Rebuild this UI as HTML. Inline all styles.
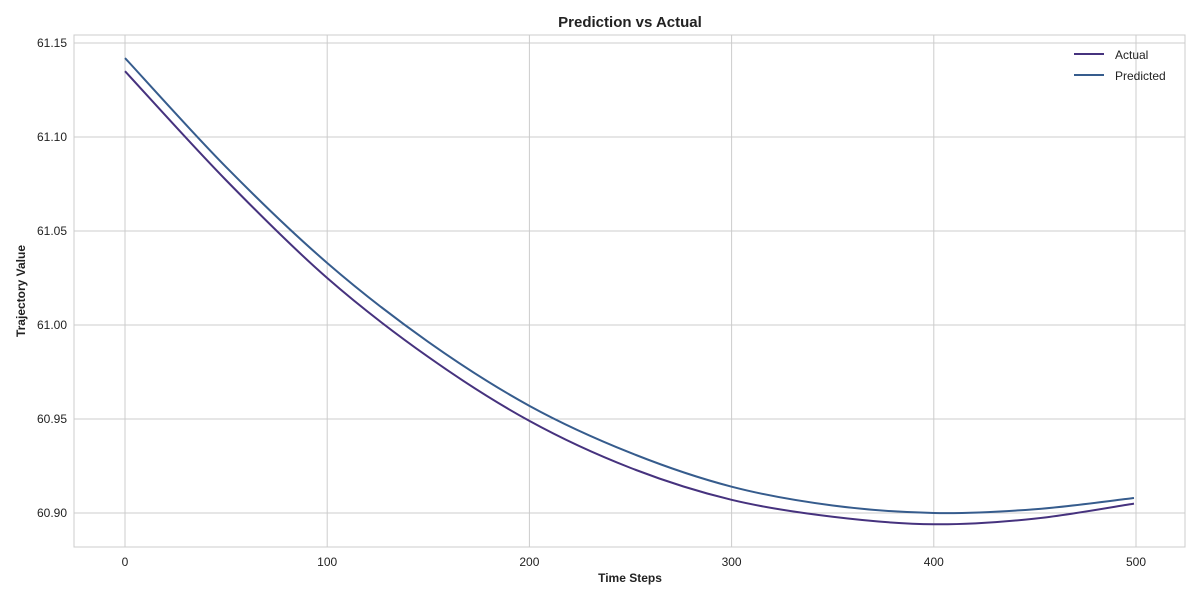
<!DOCTYPE html>
<html><head><meta charset="utf-8"><style>
body{margin:0;background:#fff;font-family:"Liberation Sans",Arial,sans-serif;}
svg text{font-family:"Liberation Sans",Arial,sans-serif;}
</style></head><body>
<svg id="chart" width="1200" height="600">
<text x="630" y="27" text-anchor="middle" font-size="15" font-weight="bold" fill="#222">Prediction vs Actual</text>
<g id="grid"></g>
<rect x="74" y="35" width="1111" height="512" fill="none" stroke="#ccc"/>
<g id="series"></g>
<text x="630" y="582" text-anchor="middle" font-size="12" font-weight="bold" fill="#222">Time Steps</text>
<text transform="translate(25,291) rotate(-90)" text-anchor="middle" font-size="12" font-weight="bold" fill="#222">Trajectory Value</text>
<g>
<g><line x1="1074" y1="54" x2="1104" y2="54" stroke="#46327e" stroke-width="2"/><text x="1115" y="59" font-size="12" fill="#222">Actual</text></g>
<g><line x1="1074" y1="75" x2="1104" y2="75" stroke="#365c8d" stroke-width="2"/><text x="1115" y="80" font-size="12" fill="#222">Predicted</text></g>
</g>
</svg>
<script>
const steps=[0,50,100,150,200,250,300,350,400,450,499];
const actual=[61.135,61.077,61.025,60.983,60.949,60.924,60.907,60.898,60.894,60.897,60.905];
const predicted=[61.142,61.084,61.033,60.991,60.957,60.932,60.914,60.904,60.900,60.902,60.908];
const xTicks=[0,100,200,300,400,500];
const yTicks=[60.90,60.95,61.00,61.05,61.10,61.15];
const NS="http://www.w3.org/2000/svg";
const xs=v=>125+(v-0)*(1136-125)/500;
const ys=v=>513-(v-60.90)*(513-43)/0.25;
const grid=document.getElementById('grid');
function mk(t,a,p){const e=document.createElementNS(NS,t);for(const k in a)e.setAttribute(k,a[k]);p.appendChild(e);return e;}
xTicks.forEach(t=>{
  const l=mk('line',{x1:xs(t),x2:xs(t),y1:35,y2:547,stroke:'#ccc'},grid);
  
  
  const tx=mk('text',{x:xs(t),y:566,'text-anchor':'middle','font-size':12,fill:'#222'},grid);
  tx.textContent=t;
  
  
});
yTicks.forEach(t=>{
  const l=mk('line',{x1:74,x2:1185,y1:ys(t),y2:ys(t),stroke:'#ccc'},grid);
  
  
  const tx=mk('text',{x:67,y:ys(t)+4,'text-anchor':'end','font-size':12,fill:'#222'},grid);
  tx.textContent=t.toFixed(2);
  
  
});
function pathFor(vals){
  const p=steps.map((s,i)=>[xs(s),ys(vals[i])]);
  let d='M'+p[0][0]+','+p[0][1];
  for(let i=0;i<p.length-1;i++){
    const p0=p[i-1]||p[i],p1=p[i],p2=p[i+1],p3=p[i+2]||p2;
    const c1=[p1[0]+(p2[0]-p0[0])/6,p1[1]+(p2[1]-p0[1])/6];
    const c2=[p2[0]-(p3[0]-p1[0])/6,p2[1]-(p3[1]-p1[1])/6];
    d+=' C'+c1+' '+c2+' '+p2;
  }
  return d;
}
const g=document.getElementById('series');
const a=mk('path',{d:pathFor(actual),fill:'none',stroke:'#46327e','stroke-width':2},g);


const pr=mk('path',{d:pathFor(predicted),fill:'none',stroke:'#365c8d','stroke-width':2},g);


</script>
</body></html>
